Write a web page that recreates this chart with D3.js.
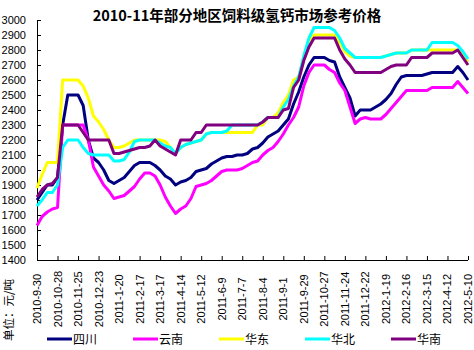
<!DOCTYPE html>
<html><head><meta charset="utf-8">
<script src="https://cdn.jsdelivr.net/npm/d3@7"></script>
<style>body{margin:0;background:#fff}svg{display:block}</style>
</head><body>
<svg id="c" width="474" height="350"></svg>
<script>
const title = "2010-11年部分地区饲料级氢钙市场参考价格";
const yAxisTitle = "单位：元/吨";
const categories = [
"2010-9-30","2010-10-7","2010-10-14","2010-10-21","2010-10-28","2010-11-4","2010-11-11","2010-11-18","2010-11-25","2010-12-2","2010-12-9","2010-12-16","2010-12-23","2010-12-30",
"2011-1-6","2011-1-13","2011-1-20","2011-1-27","2011-2-3","2011-2-10","2011-2-17","2011-2-24","2011-3-3","2011-3-10","2011-3-17","2011-3-24","2011-3-31","2011-4-7","2011-4-14","2011-4-21","2011-4-28","2011-5-5","2011-5-12","2011-5-19","2011-5-26","2011-6-2","2011-6-9","2011-6-16","2011-6-23","2011-6-30","2011-7-7","2011-7-14","2011-7-21","2011-7-28","2011-8-4","2011-8-11","2011-8-18","2011-8-25","2011-9-1","2011-9-8","2011-9-15","2011-9-22","2011-9-29","2011-10-6","2011-10-13","2011-10-20","2011-10-27","2011-11-3","2011-11-10","2011-11-17","2011-11-24","2011-12-1","2011-12-8","2011-12-15","2011-12-22","2011-12-29",
"2012-1-5","2012-1-12","2012-1-19","2012-1-26","2012-2-2","2012-2-9","2012-2-16","2012-2-23","2012-3-1","2012-3-8","2012-3-15","2012-3-22","2012-3-29","2012-4-5","2012-4-12","2012-4-19","2012-4-26","2012-5-3","2012-5-10"];
const tickLabels = ["2010-9-30","2010-10-28","2010-11-25","2010-12-23","2011-1-20","2011-2-17","2011-3-17","2011-4-14","2011-5-12","2011-6-9","2011-7-7","2011-8-4","2011-9-1","2011-9-29","2011-10-27","2011-11-24","2011-12-22","2012-1-19","2012-2-16","2012-3-15","2012-4-12","2012-5-10"];
const yTicks = [1400,1500,1600,1700,1800,1900,2000,2100,2200,2300,2400,2500,2600,2700,2800,2900,3000];
const seriesNames = ["四川","云南","华东","华北","华南"];
const sichuan = [1800,1850,1900,1900,1950,2300,2500,2500,2500,2430,2200,2080,2050,2000,1930,1910,1930,1950,1990,2030,2050,2050,2050,2030,2000,1960,1940,1900,1920,1930,1950,1990,2000,2010,2040,2060,2080,2090,2090,2100,2100,2110,2140,2150,2180,2220,2240,2260,2300,2340,2440,2520,2620,2700,2750,2750,2750,2730,2720,2620,2550,2480,2360,2400,2400,2400,2420,2440,2470,2510,2570,2620,2630,2630,2630,2630,2640,2650,2650,2650,2650,2650,2690,2650,2600];
const yunnan = [1630,1690,1720,1740,1750,2300,2300,2300,2300,2300,2200,2020,1960,1900,1860,1810,1820,1830,1860,1890,1940,1980,1980,1960,1900,1820,1760,1710,1740,1760,1810,1890,1900,1910,1930,1960,1990,2000,2000,2000,2010,2030,2050,2060,2100,2130,2150,2190,2240,2300,2350,2420,2560,2650,2700,2700,2700,2670,2650,2580,2530,2420,2310,2340,2350,2340,2340,2340,2370,2410,2450,2490,2530,2530,2530,2530,2530,2550,2550,2550,2550,2550,2590,2550,2510];
const huadong = [1880,1970,2050,2050,2050,2600,2600,2600,2600,2560,2480,2360,2320,2270,2200,2150,2150,2160,2180,2200,2200,2200,2200,2200,2200,2190,2150,2110,2150,2170,2180,2190,2200,2240,2250,2250,2250,2250,2250,2250,2250,2250,2250,2300,2300,2350,2350,2380,2450,2500,2600,2620,2760,2860,2900,2900,2900,2900,2900,2850,2790,2760,2750,2750,2750,2750,2750,2750,2760,2770,2780,2780,2780,2800,2800,2800,2800,2800,2800,2800,2800,2800,2800,2770,2720];
const huabei = [1760,1800,1850,1850,1900,2150,2200,2200,2200,2150,2110,2100,2100,2100,2100,2060,2060,2070,2120,2190,2200,2200,2200,2200,2180,2160,2150,2110,2150,2170,2180,2190,2200,2240,2250,2250,2250,2260,2300,2300,2300,2300,2300,2300,2320,2350,2350,2350,2420,2470,2560,2620,2760,2880,2950,2950,2950,2950,2930,2880,2810,2780,2750,2750,2750,2750,2750,2750,2760,2770,2780,2780,2780,2800,2800,2800,2800,2850,2850,2850,2850,2850,2830,2790,2740];
const huanan = [1820,1870,1900,1910,1950,2300,2300,2300,2300,2250,2200,2200,2200,2200,2200,2110,2110,2120,2130,2140,2150,2150,2160,2200,2160,2140,2120,2100,2200,2200,2200,2250,2250,2300,2300,2300,2300,2300,2300,2300,2300,2300,2300,2300,2320,2350,2350,2350,2400,2410,2550,2600,2730,2820,2880,2880,2880,2880,2880,2800,2740,2700,2650,2650,2650,2650,2650,2650,2670,2690,2700,2700,2700,2750,2750,2750,2750,2780,2780,2780,2780,2780,2800,2750,2700];
const colors = ["#000080","#ff00ff","#ffff00","#00ffff","#800080"];

const series = [sichuan, yunnan, huadong, huabei, huanan];
const svg = d3.select("#c");
const L = 37, R = 468, T = 20, B = 260;
const x = d3.scalePoint().domain(categories).range([L, R]);
const y = d3.scaleLinear().domain([1400, 3000]).range([B, T]);

svg.append("text").attr("x", 237).attr("y", 21).attr("text-anchor", "middle")
  .attr("font-family", "'Noto Sans CJK SC', sans-serif").attr("font-weight", "bold")
  .attr("font-size", 14.5).text(title);

const yAxis = svg.append("g").attr("transform", `translate(${L},0)`)
  .call(d3.axisRight(y).tickValues(yTicks).tickSize(4).tickFormat(d3.format("d")));
yAxis.select(".domain").attr("d", `M0.5,${T}V${B}`);
yAxis.selectAll("text").attr("x", -11).attr("text-anchor", "end")
  .attr("font-family", "'Liberation Sans', Arial, sans-serif").attr("font-size", 11).attr("fill", "#000");

const xAxis = svg.append("g").attr("transform", `translate(0,${B})`)
  .call(d3.axisTop(x).tickValues(tickLabels).tickSize(4).tickFormat(""));
xAxis.select(".domain").attr("d", `M${L},0.5H${R}`);
svg.append("g").selectAll("text").data(tickLabels).join("text")
  .attr("transform", d => `translate(${x(d)+4},299) rotate(-90)`)
  .attr("text-anchor", "middle")
  .attr("font-family", "'Liberation Sans', Arial, sans-serif").attr("font-size", 11).text(d => d);

svg.append("text").attr("transform", "translate(13,310) rotate(-90)").attr("text-anchor", "middle")
  .attr("font-family", "'Noto Sans CJK SC', sans-serif").attr("font-size", 11.5).text(yAxisTitle);

const line = d3.line().x((d, i) => x(categories[i])).y(d => y(d));
svg.append("g").selectAll("path").data(series).join("path")
  .attr("d", d => line(d)).attr("fill", "none")
  .attr("stroke", (d, i) => colors[i]).attr("stroke-width", 3).attr("stroke-linejoin", "round");

const leg = svg.append("g").selectAll("g").data(seriesNames).join("g")
  .attr("transform", (d, i) => `translate(${47 + i * 86},339)`);
leg.append("line").attr("x1", 0).attr("x2", 25).attr("y1", 0).attr("y2", 0)
  .attr("stroke", (d, i) => colors[i]).attr("stroke-width", 3);
leg.append("text").attr("x", 26).attr("y", 4.5).attr("font-family", "'Noto Sans CJK SC', sans-serif")
  .attr("font-size", 12).text(d => d);
</script>
</body></html>
